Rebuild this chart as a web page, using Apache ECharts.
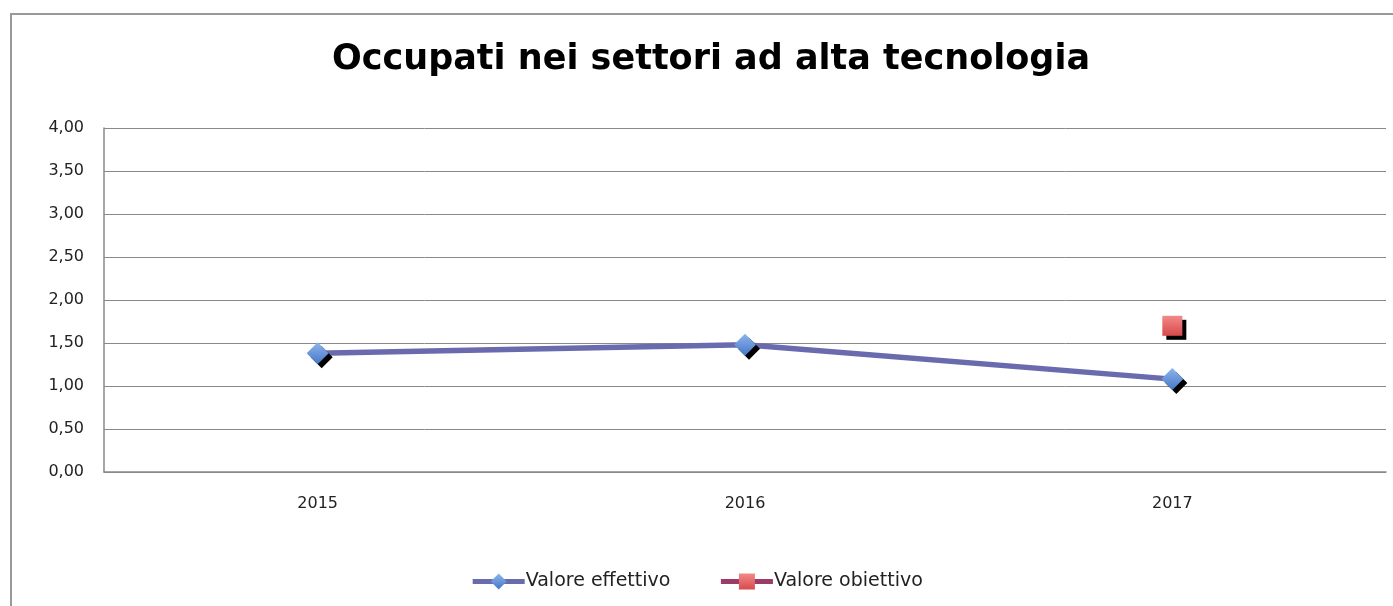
<!DOCTYPE html>
<html>
<head>
<meta charset="utf-8">
<script src="https://cdn.jsdelivr.net/npm/echarts@6/dist/echarts.min.js"></script>
<style>
html, body { margin: 0; padding: 0; background: #fff; }
#chart { width: 1393px; height: 606px; }
</style>
</head>
<body>
<div id="chart"></div>
<script>
var years = ['2015', '2016', '2017'];
var valoreEffettivo = [1.38, 1.48, 1.08];
var valoreObiettivo = [null, null, 1.70];

var chart = echarts.init(document.getElementById('chart'));

// etichette con la virgola come in Excel
function fmt(v) {
	return v.toFixed(2).replace('.', ',');
}

var shadow = {
	shadowColor: '#000',
	shadowBlur: 0,
	shadowOffsetX: 4,
	shadowOffsetY: 4
};

var option = {
	animation: false,
	textStyle: { fontFamily: 'DejaVu Sans' },
	graphic: [{
		type: 'rect',
		shape: { x: 11, y: 14, width: 1400, height: 620 },
		style: { fill: 'none', stroke: '#999', lineWidth: 2 },
		silent: true
	}],
	title: {
		text: 'Occupati nei settori ad alta tecnologia',
		left: 706,
		textAlign: 'center',
		top: 37,
		textStyle: { fontSize: 35, fontWeight: 'bold', color: '#000', fontFamily: 'DejaVu Sans' }
	},
	grid: { left: 104, right: 7, top: 128, bottom: 134 },
	legend: {
		bottom: 10,
		left: 'center',
		itemWidth: 52,
		itemHeight: 20,
		itemGap: 48,
		lineStyle: { width: 5 },
		textStyle: { fontSize: 19, color: '#222', padding: [0, 0, 0, -4] },
		data: ['Valore effettivo', 'Valore obiettivo']
	},
	xAxis: {
		type: 'category',
		data: years,
		boundaryGap: true,
		axisLine: { lineStyle: { color: '#888', width: 1.5 } },
		axisTick: { show: false },
		axisLabel: { color: '#222', fontSize: 16, margin: 24 }
	},
	yAxis: {
		type: 'value',
		min: 0,
		max: 4,
		interval: 0.5,
		axisLine: { show: true, lineStyle: { color: '#888', width: 1.5 } },
		axisTick: { show: false },
		axisLabel: { color: '#222', fontSize: 16, margin: 20, formatter: fmt },
		splitLine: { lineStyle: { color: '#888', width: 1 } }
	},
	series: [
		{
			name: 'Valore effettivo',
			type: 'line',
			data: valoreEffettivo,
			symbol: 'diamond',
			symbolSize: 22,
			lineStyle: { color: '#6a6aae', width: 5.5 },
			itemStyle: Object.assign({
				color: new echarts.graphic.LinearGradient(0, 0, 0, 1, [
					{ offset: 0, color: '#8db4ec' },
					{ offset: 1, color: '#4677c8' }
				]),
				borderWidth: 0
			}, shadow)
		},
		{
			name: 'Valore obiettivo',
			type: 'line',
			data: valoreObiettivo,
			symbol: 'rect',
			symbolSize: 20,
			lineStyle: { color: '#9a3b68', width: 5.5 },
			itemStyle: Object.assign({
				color: new echarts.graphic.LinearGradient(0, 0, 0, 1, [
					{ offset: 0, color: '#f08a88' },
					{ offset: 1, color: '#d84a4a' }
				]),
				borderWidth: 0
			}, shadow)
		}
	]
};

chart.setOption(option);
</script>
</body>
</html>
